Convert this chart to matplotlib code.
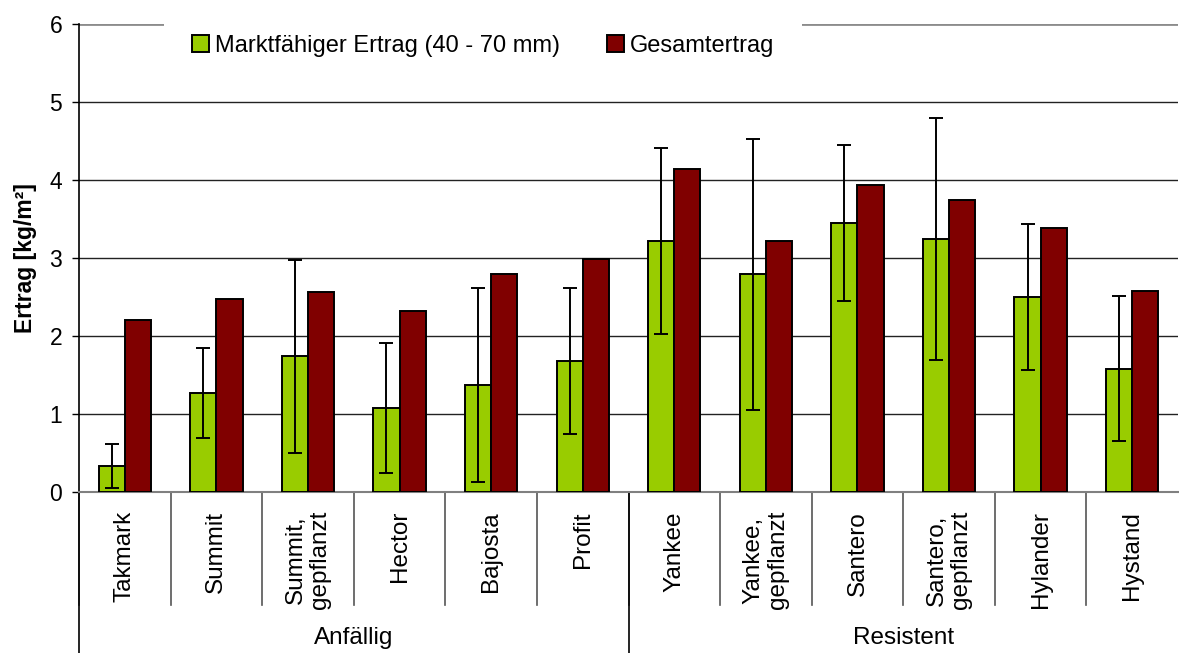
import matplotlib
matplotlib.use("Agg")
import matplotlib.pyplot as plt
import matplotlib.transforms as mtransforms
from matplotlib.lines import Line2D
import numpy as np

plt.rcParams['font.family'] = ['Liberation Sans', 'DejaVu Sans']

# Sorten (Kategorien) und Gruppen
sorten = ['Takmark', 'Summit', 'Summit,\ngepflanzt', 'Hector', 'Bajosta', 'Profit',
          'Yankee', 'Yankee,\ngepflanzt', 'Santero', 'Santero,\ngepflanzt', 'Hylander', 'Hystand']
gruppen = ['Anfällig', 'Resistent']
gruppen_groesse = [6, 6]

# Ertrag in kg/m²
marktfaehig = [0.33, 1.27, 1.74, 1.08, 1.37, 1.68, 3.22, 2.79, 3.45, 3.24, 2.50, 1.58]
marktfaehig_fehler = [0.28, 0.58, 1.24, 0.83, 1.24, 0.94, 1.19, 1.74, 1.00, 1.55, 0.93, 0.93]
gesamt = [2.20, 2.48, 2.56, 2.32, 2.79, 2.99, 4.14, 3.22, 3.93, 3.74, 3.39, 2.58]

yticks = [0, 1, 2, 3, 4, 5, 6]

GRUEN = '#99CC00'
ROT = '#800000'

fig = plt.figure(figsize=(11.79, 6.53), dpi=100)
ax = fig.add_axes([79 / 1179, 1 - 492 / 653, 1099 / 1179, 468 / 653])

x = np.arange(len(sorten))
w = 1 / 3.5  # Excel: Abstand 150 %

ax.bar(x - w / 2, marktfaehig, w, color=GRUEN, edgecolor='black', linewidth=1.4,
       label='Marktfähiger Ertrag (40 - 70 mm)', zorder=3)
ax.bar(x + w / 2, gesamt, w, color=ROT, edgecolor='black', linewidth=1.4,
       label='Gesamtertrag', zorder=3)
ax.errorbar(x - w / 2, marktfaehig, yerr=marktfaehig_fehler, fmt='none', ecolor='black',
            elinewidth=1.4, capsize=5, capthick=1.4, zorder=4)

ax.set_xlim(-0.5, len(sorten) - 0.5)
ax.set_ylim(0, 6)
ax.set_yticks(yticks)
ax.set_yticklabels([str(t) for t in yticks], fontsize=16.5)
ax.tick_params(axis='y', direction='out', length=5, width=1, color='black', pad=7)
ax.set_xticks([])

# Gitternetz
for t in yticks[1:-1]:
    ax.axhline(t, color='#222222', linewidth=1, zorder=1)
ax.axhline(6, color='#8c8c8c', linewidth=2, zorder=1)

for s in ['top', 'right']:
    ax.spines[s].set_visible(False)
ax.spines['left'].set_color('black')
ax.spines['left'].set_linewidth(1.2)
ax.spines['bottom'].set_color('#808080')
ax.spines['bottom'].set_linewidth(1.5)

ax.set_ylabel('Ertrag [kg/m²]', fontsize=16.5, fontweight='bold', labelpad=9)

# Legende (weiße Fläche unterbricht die obere Linie)
leg = ax.legend(loc='center left', bbox_to_anchor=(85 / 1099, 1 - 22 / 468), ncol=2,
                fontsize=17, frameon=True, fancybox=False, edgecolor='none',
                facecolor='white', framealpha=1, handlelength=0.7, handleheight=0.7,
                handletextpad=0.25, columnspacing=2.0, borderpad=1.2, borderaxespad=0)
for h in leg.legend_handles:
    h.set_linewidth(1.4)
leg.set_zorder(5)

# Mehrstufige Kategorieachse
trans = mtransforms.blended_transform_factory(ax.transData, ax.transAxes)
h_kat = 113 / 468
h_grp = 161 / 468
for i in range(len(sorten)):
    ax.add_line(Line2D([i - 0.5, i - 0.5], [0, -h_kat], transform=trans, color='#555555',
                       linewidth=1.2, clip_on=False))
    ax.text(i, -19 / 468, sorten[i], transform=trans, rotation=90, ha='center', va='top',
            multialignment='center', fontsize=17.5, linespacing=1.15)

start = 0
for g, n in zip(gruppen, gruppen_groesse):
    ax.add_line(Line2D([start - 0.5, start - 0.5], [0, -h_grp], transform=trans,
                       color='black', linewidth=1.2, clip_on=False))
    ax.text(start + n / 2 - 0.5, -146 / 468, g, transform=trans, ha='center', va='center',
            fontsize=17.5)
    start += n

fig.savefig('out.png', dpi=100)
